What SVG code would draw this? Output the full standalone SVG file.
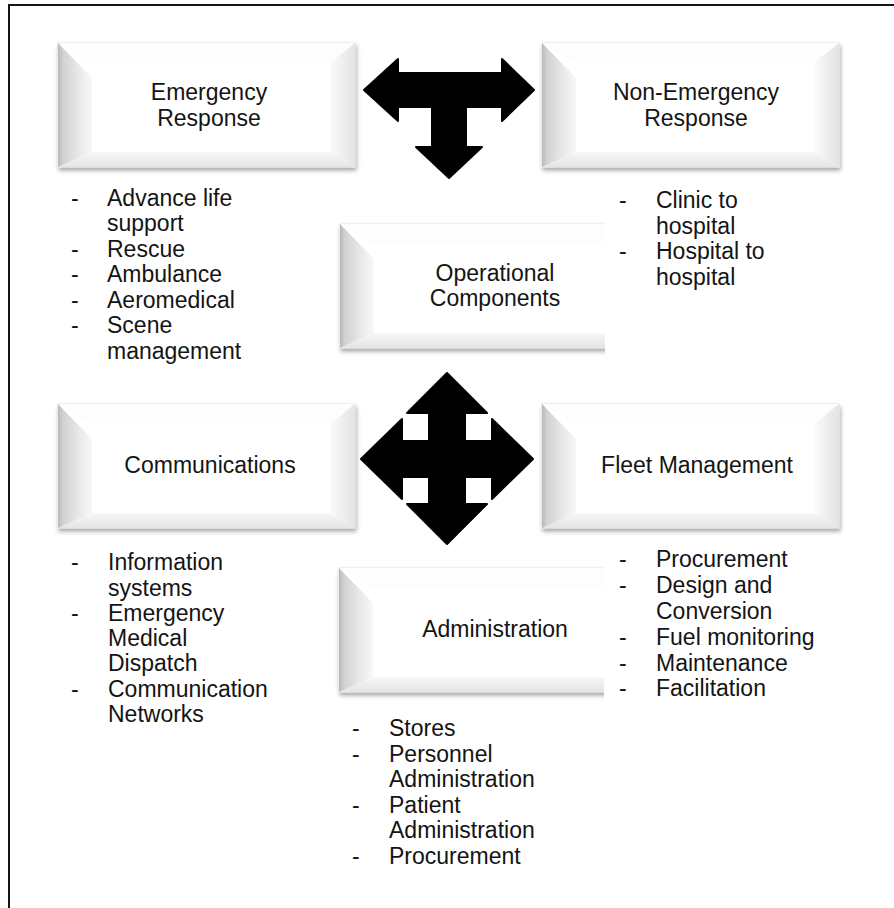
<svg xmlns="http://www.w3.org/2000/svg" width="894" height="908" viewBox="0 0 894 908">
  <style>
    text { font-family: "Liberation Sans", Arial, sans-serif; font-size: 23px; fill: #141414; }
    .title { text-anchor: middle; }
    .arrow { fill: #000; stroke: #000; stroke-width: 2; stroke-linejoin: round; }
    .frame { fill: none; stroke: #141414; stroke-width: 2; }
  </style>
  <defs>
    <linearGradient id="gLeft" x1="0" y1="0" x2="1" y2="0">
      <stop offset="0" stop-color="#b9b9b9"/>
      <stop offset="0.15" stop-color="#d2d2d2"/>
      <stop offset="0.7" stop-color="#ececec"/>
      <stop offset="1" stop-color="#f8f8f8"/>
    </linearGradient>
    <linearGradient id="gBottom" x1="0" y1="0" x2="0" y2="1">
      <stop offset="0" stop-color="#f7f7f7"/>
      <stop offset="1" stop-color="#e4e4e4"/>
    </linearGradient>
    <linearGradient id="gRight" x1="0" y1="0" x2="1" y2="0">
      <stop offset="0" stop-color="#fbfbfb"/>
      <stop offset="1" stop-color="#e3e3e3"/>
    </linearGradient>
    <filter id="shadow" x="-5%" y="-5%" width="112%" height="125%">
      <feDropShadow dx="1" dy="3" stdDeviation="2" flood-color="#000" flood-opacity="0.35"/>
    </filter>
    <!-- bevelled tile, 297 x 124 -->
    <g id="bevel">
      <rect width="297" height="124" fill="#fff" stroke="#e4e4e4" stroke-width="1" filter="url(#shadow)"/>
      <polygon points="0,0 297,0 272,20 34,20" fill="#fdfdfd"/>
      <polygon points="297,0 272,20 272,109 297,124" fill="url(#gRight)"/>
      <polygon points="0,124 34,109 272,109 297,124" fill="url(#gBottom)"/>
      <polygon points="0,0 34,35 34,109 0,124" fill="url(#gLeft)"/>
      <rect x="34" y="20" width="238" height="89" fill="#fff"/>
    </g>
    <clipPath id="cut">
      <rect x="-10" y="-10" width="275" height="150"/>
    </clipPath>
  </defs>

  <rect width="894" height="908" fill="#fff"/>
  <path class="frame" d="M9,908 V5 H894"/>

  <g id="connectors">
    <polygon class="arrow" points="364,90 398,59 398,73 502,73 502,59 534,90 502,121 502,107 466,107 466,147 482,147 449,178 416,147 432,147 432,107 398,107 398,121"/>
    <polygon class="arrow" points="447,373 487,413 465,413 465,441 492,441 492,419 533,459 492,499 492,477 465,477 465,504 487,504 447,544 407,504 429,504 429,477 402,477 402,499 361,459 402,419 402,441 429,441 429,413 407,413"/>
  </g>

  <g id="emergency">
    <use href="#bevel" transform="translate(58,43)"/>
    <text class="title" x="209" y="100">Emergency</text>
    <text class="title" x="209" y="126">Response</text>
    <text x="71" y="205.5">-</text><text x="107" y="205.5">Advance life</text>
    <text x="107" y="231">support</text>
    <text x="71" y="256.5">-</text><text x="107" y="256.5">Rescue</text>
    <text x="71" y="282">-</text><text x="107" y="282">Ambulance</text>
    <text x="71" y="307.5">-</text><text x="107" y="307.5">Aeromedical</text>
    <text x="71" y="333">-</text><text x="107" y="333">Scene</text>
    <text x="107" y="358.5">management</text>
  </g>

  <g id="non-emergency">
    <use href="#bevel" transform="translate(542,43)"/>
    <text class="title" x="696" y="100">Non-Emergency</text>
    <text class="title" x="696" y="126">Response</text>
    <text x="619" y="208">-</text><text x="656" y="208">Clinic to</text>
    <text x="656" y="233.5">hospital</text>
    <text x="619" y="259">-</text><text x="656" y="259">Hospital to</text>
    <text x="656" y="284.5">hospital</text>
  </g>

  <g id="operational">
    <use href="#bevel" transform="translate(340,224)" clip-path="url(#cut)"/>
    <text class="title" x="495" y="281">Operational</text>
    <text class="title" x="495" y="306">Components</text>
  </g>

  <g id="communications">
    <use href="#bevel" transform="translate(58,404)"/>
    <text class="title" x="210" y="473">Communications</text>
    <text x="71" y="570">-</text><text x="108" y="570">Information</text>
    <text x="108" y="595.5">systems</text>
    <text x="71" y="620.5">-</text><text x="108" y="620.5">Emergency</text>
    <text x="108" y="645.5">Medical</text>
    <text x="108" y="671">Dispatch</text>
    <text x="71" y="696.5">-</text><text x="108" y="696.5">Communication</text>
    <text x="108" y="722">Networks</text>
  </g>

  <g id="fleet">
    <use href="#bevel" transform="translate(542,404)"/>
    <text class="title" x="697" y="473">Fleet Management</text>
    <text x="619" y="567">-</text><text x="656" y="567">Procurement</text>
    <text x="619" y="593">-</text><text x="656" y="593">Design and</text>
    <text x="656" y="619">Conversion</text>
    <text x="619" y="645">-</text><text x="656" y="645">Fuel monitoring</text>
    <text x="619" y="670.5">-</text><text x="656" y="670.5">Maintenance</text>
    <text x="619" y="696">-</text><text x="656" y="696">Facilitation</text>
  </g>

  <g id="administration">
    <use href="#bevel" transform="translate(339,568)" clip-path="url(#cut)"/>
    <text class="title" x="495" y="637">Administration</text>
    <text x="352" y="735.5">-</text><text x="389" y="735.5">Stores</text>
    <text x="352" y="761.5">-</text><text x="389" y="761.5">Personnel</text>
    <text x="389" y="787">Administration</text>
    <text x="352" y="812.7">-</text><text x="389" y="812.7">Patient</text>
    <text x="389" y="838.3">Administration</text>
    <text x="352" y="864">-</text><text x="389" y="864">Procurement</text>
  </g>
</svg>
